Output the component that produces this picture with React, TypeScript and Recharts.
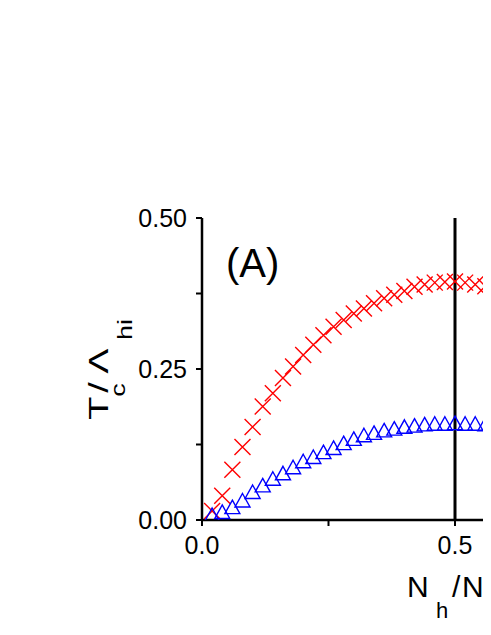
import React from 'react';
import { ScatterChart, Scatter, XAxis, YAxis, ReferenceLine, Label } from 'recharts';

// N_h/N_f grid (both series sampled at the same points)
const fractions = [
  0.02, 0.04, 0.06, 0.08, 0.1, 0.12, 0.14, 0.16, 0.18, 0.2,
  0.22, 0.24, 0.26, 0.28, 0.3, 0.32, 0.34, 0.36, 0.38, 0.4,
  0.42, 0.44, 0.46, 0.48, 0.5, 0.52, 0.54, 0.56, 0.58, 0.6,
];

// red crosses
const crossTc = [
  0.015, 0.04, 0.083, 0.121, 0.154, 0.188, 0.21, 0.235, 0.254, 0.273,
  0.29, 0.306, 0.32, 0.331, 0.342, 0.35, 0.359, 0.367, 0.373, 0.379,
  0.386, 0.39, 0.393, 0.394, 0.395, 0.393, 0.39, 0.387, 0.384, 0.38,
];

// blue open triangles
const triangleTc = [
  0.005, 0.01, 0.018, 0.029, 0.043, 0.054, 0.065, 0.074, 0.084, 0.094,
  0.101, 0.109, 0.116, 0.124, 0.131, 0.137, 0.141, 0.145, 0.148, 0.151,
  0.153, 0.155, 0.156, 0.156, 0.157, 0.156, 0.156, 0.155, 0.153, 0.151,
];

const xTicks = [0, 0.25, 0.5, 0.75, 1];
const xTickLabels = ['0.0', '', '0.5', '', '1.0'];
const topTicks = [0.25, 0.75];
const yTicks = [0, 0.125, 0.25, 0.375, 0.5];
const yTickLabels = ['0.00', '', '0.25', '', '0.50'];

const crossData = fractions.map((x, i) => ({ x, y: crossTc[i] }));
const triangleData = fractions.map((x, i) => ({ x, y: triangleTc[i] }));

const FONT = '"Liberation Sans", Arial, sans-serif';

const CrossMark = (props: any) => {
  const { cx, cy } = props;
  if (cx == null || cy == null) return null;
  const s = 8;
  return (
    <path
      d={`M${cx - s},${cy - s}L${cx + s},${cy + s}M${cx - s},${cy + s}L${cx + s},${cy - s}`}
      stroke="#ff0000"
      strokeWidth={1.4}
      fill="none"
    />
  );
};

const TriangleMark = (props: any) => {
  const { cx, cy } = props;
  if (cx == null || cy == null) return null;
  return (
    <path
      d={`M${cx},${cy - 9}L${cx + 7.5},${cy + 4.5}L${cx - 7.5},${cy + 4.5}Z`}
      stroke="#0000ff"
      strokeWidth={1.4}
      fill="none"
    />
  );
};

const XLabel = () => (
  <text fontFamily={FONT} fill="#000">
    <tspan x={399} y={589} fontSize={30}>N</tspan>
    <tspan x={428} y={610} fontSize={22}>h</tspan>
    <tspan x={444} y={589} fontSize={30}>/</tspan>
    <tspan x={454} y={589} fontSize={30}>N</tspan>
    <tspan x={476} y={610} fontSize={22}>f</tspan>
  </text>
);

// rotated label, stretched along the reading direction like the original
const YLabel = () => (
  <g>
    <text fontFamily={FONT} fill="#000" transform="rotate(-90) scale(1.35,1)">
      <tspan x={-305} y={100} fontSize={28}>T</tspan>
      <tspan x={-288} y={117} fontSize={20}>c</tspan>
      <tspan x={-285} y={100} fontSize={28}>/</tspan>
      <tspan x={-271} y={100} fontSize={28}>Λ</tspan>
      <tspan x={-246} y={124} fontSize={20}>hi</tspan>
    </text>
    <text x={218} y={269} fontFamily={FONT} fontSize={40} fill="#000">
      (A)
    </text>
  </g>
);

export default function App() {
  return (
    <div style={{ width: 483, height: 619, overflow: 'hidden', background: '#fff' }}>
      <ScatterChart
        width={760}
        height={619}
        margin={{ top: 210, right: 60, bottom: 67, left: 114 }}
        style={{ fontFamily: FONT }}
      >
        <XAxis
          type="number"
          dataKey="x"
          domain={[0, 1]}
          ticks={xTicks}
          tickFormatter={(v: number) => xTickLabels[xTicks.indexOf(v)] ?? ''}
          height={40}
          tickSize={6}
          tickMargin={10}
          axisLine={{ stroke: '#000', strokeWidth: 2.5 }}
          tickLine={{ stroke: '#000', strokeWidth: 2 }}
          tick={{ fill: '#000', fontSize: 25, fontFamily: FONT }}
          allowDataOverflow
        >
          <Label content={() => <XLabel />} />
        </XAxis>
        <XAxis
          xAxisId="top"
          orientation="top"
          type="number"
          domain={[0, 1]}
          ticks={topTicks}
          tickFormatter={() => ''}
          height={0}
          tickSize={-4}
          tickLine={{ stroke: '#000', strokeWidth: 2 }}
          axisLine={{ stroke: '#000', strokeWidth: 2.5 }}
        />
        <YAxis
          type="number"
          dataKey="y"
          domain={[0, 0.5]}
          ticks={yTicks}
          tickFormatter={(v: number) => yTickLabels[yTicks.indexOf(v)] ?? ''}
          width={80}
          tickSize={6}
          tickMargin={9}
          axisLine={{ stroke: '#000', strokeWidth: 2.5 }}
          tickLine={{ stroke: '#000', strokeWidth: 2 }}
          tick={{ fill: '#000', fontSize: 25, fontFamily: FONT }}
          allowDataOverflow
        >
          <Label content={() => <YLabel />} />
        </YAxis>
        <ReferenceLine x={0.5} stroke="#000" strokeWidth={3} />
        <Scatter data={crossData} shape={CrossMark} isAnimationActive={false} />
        <Scatter data={triangleData} shape={TriangleMark} isAnimationActive={false} />
      </ScatterChart>
    </div>
  );
}
